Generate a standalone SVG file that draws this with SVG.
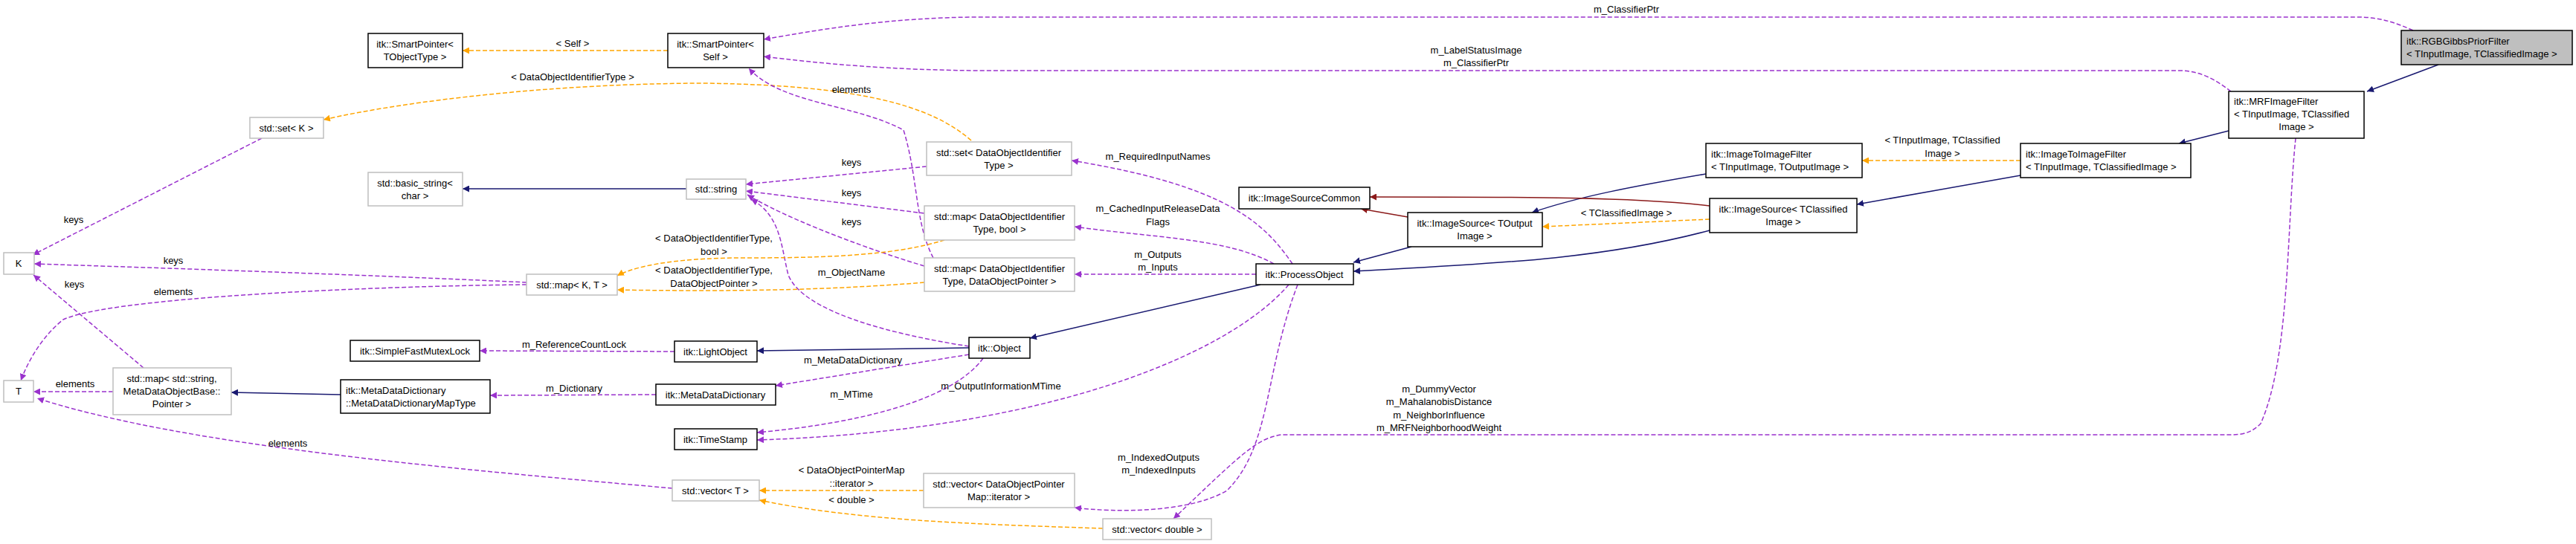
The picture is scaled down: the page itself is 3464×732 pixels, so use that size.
<svg xmlns="http://www.w3.org/2000/svg" width="3464" height="732" viewBox="0 0 3464 732">
<style>
text{font-family:"Liberation Sans",Arial,sans-serif;font-size:13px;fill:#000}
.c{text-anchor:middle}
.n rect{fill:#fff;stroke:#000;stroke-width:1.5}
.g rect{fill:#fff;stroke:#bfbfbf;stroke-width:1.5}
#edges path{fill:none;stroke-width:1.5}
.p{stroke:#9a32cd;stroke-dasharray:6,3}
.o{stroke:#ffa500;stroke-dasharray:6,3}
.b{stroke:#191970}
.r{stroke:#8b1a1a}
</style>
<defs>
<marker id="mp" viewBox="0 0 10 10" refX="10" refY="5" markerWidth="9" markerHeight="9" markerUnits="userSpaceOnUse" orient="auto"><path d="M0,0L10,5L0,10z" fill="#9a32cd"/></marker>
<marker id="mo" viewBox="0 0 10 10" refX="10" refY="5" markerWidth="9" markerHeight="9" markerUnits="userSpaceOnUse" orient="auto"><path d="M0,0L10,5L0,10z" fill="#ffa500"/></marker>
<marker id="mb" viewBox="0 0 10 10" refX="10" refY="5" markerWidth="9" markerHeight="9" markerUnits="userSpaceOnUse" orient="auto"><path d="M0,0L10,5L0,10z" fill="#191970"/></marker>
<marker id="mr" viewBox="0 0 10 10" refX="10" refY="5" markerWidth="9" markerHeight="9" markerUnits="userSpaceOnUse" orient="auto"><path d="M0,0L10,5L0,10z" fill="#8b1a1a"/></marker>
</defs>
<rect width="3464" height="732" fill="#fff"/>
<g id="edges">
<path class="p" marker-end="url(#mp)" d="M3245,41 C3220,30 3200,23 3170,23 L1319,23 C1200,23 1100,40 1027,53"/>
<path class="p" marker-end="url(#mp)" d="M3000,123 C2980,108 2960,95 2930,95 L1330,95 C1200,95 1100,85 1027,76"/>
<path class="b" marker-end="url(#mb)" d="M3279,87 L3183,123"/>
<path class="b" marker-end="url(#mb)" d="M2997,176 L2930,193"/>
<path class="o" marker-end="url(#mo)" d="M2717,216 L2504,216"/>
<path class="b" marker-end="url(#mb)" d="M2294,234 C2200,250 2120,265 2060,286"/>
<path class="b" marker-end="url(#mb)" d="M2717,236 L2497,275"/>
<path class="o" marker-end="url(#mo)" d="M2299,295 L2074,305"/>
<path class="r" marker-end="url(#mr)" d="M2299,277 C2200,265 2050,265 1842,265"/>
<path class="r" marker-end="url(#mr)" d="M1893,292 L1830,281"/>
<path class="b" marker-end="url(#mb)" d="M1898,332 L1820,353"/>
<path class="b" marker-end="url(#mb)" d="M2299,310 C2150,350 2000,355 1820,365"/>
<path class="b" marker-end="url(#mb)" d="M1695,383 L1385,455"/>
<path class="b" marker-end="url(#mb)" d="M1303,468 L1018,472"/>
<path class="b" marker-end="url(#mb)" d="M923,254 L622,254"/>
<path class="p" marker-end="url(#mp)" d="M907,473 L645,472"/>
<path class="p" marker-end="url(#mp)" d="M1303,477 L1043,519"/>
<path class="p" marker-end="url(#mp)" d="M882,531 L659,532"/>
<path class="b" marker-end="url(#mb)" d="M458,531 L311,528"/>
<path class="p" marker-end="url(#mp)" d="M152,527 L45,527"/>
<path class="p" marker-end="url(#mp)" d="M193,495 L45,370"/>
<path class="p" marker-end="url(#mp)" d="M708,380 C500,370 200,360 46,355"/>
<path class="p" marker-end="url(#mp)" d="M708,383 C500,385 150,400 85,430 C60,450 40,480 28,512"/>
<path class="p" marker-end="url(#mp)" d="M352,186 L44,343"/>
<path class="p" marker-end="url(#mp)" d="M904,657 C600,630 250,600 50,536"/>
<path class="o" marker-end="url(#mo)" d="M898,68 L622,68"/>
<path class="o" marker-end="url(#mo)" d="M1306,189 C1250,140 1150,115 950,112 C750,112 550,135 435,161"/>
<path class="p" marker-end="url(#mp)" d="M1255,347 C1230,300 1235,240 1215,175 C1150,140 1050,140 1007,92"/>
<path class="p" marker-end="url(#mp)" d="M1246,224 L1003,248"/>
<path class="p" marker-end="url(#mp)" d="M1243,287 L1003,257"/>
<path class="p" marker-end="url(#mp)" d="M1243,358 C1150,330 1050,290 1005,262"/>
<path class="p" marker-end="url(#mp)" d="M1303,466 C1200,450 1080,420 1060,370 C1050,330 1050,290 1010,268"/>
<path class="o" marker-end="url(#mo)" d="M1270,323 C1200,345 1100,347 1000,347 C900,347 850,360 830,371"/>
<path class="o" marker-end="url(#mo)" d="M1243,380 C1100,392 950,392 830,390"/>
<path class="p" marker-end="url(#mp)" d="M1738,355 C1700,300 1650,250 1441,216"/>
<path class="p" marker-end="url(#mp)" d="M1713,355 C1650,320 1550,320 1445,305"/>
<path class="p" marker-end="url(#mp)" d="M1689,369 L1445,369"/>
<path class="p" marker-end="url(#mp)" d="M1733,383 C1650,480 1400,580 1018,592"/>
<path class="p" marker-end="url(#mp)" d="M1322,482 C1280,540 1150,570 1018,582"/>
<path class="p" marker-end="url(#mp)" d="M1745,383 C1700,500 1710,600 1650,660 C1600,690 1500,690 1445,683"/>
<path class="o" marker-end="url(#mo)" d="M1242,660 L1021,660"/>
<path class="o" marker-end="url(#mo)" d="M1483,711 C1300,705 1150,700 1021,673"/>
<path class="p" marker-end="url(#mp)" d="M3087,186 C3075,300 3080,480 3040,570 C3030,580 3020,585 3000,585 L1723,585 C1690,590 1670,610 1578,698"/>
</g>
<g id="labels">
<text class="c" x="2187" y="17">m_ClassifierPtr</text>
<text class="c" x="1985" y="72">m_LabelStatusImage</text>
<text class="c" x="1985" y="89">m_ClassifierPtr</text>
<text class="c" x="2612" y="193">&lt; TInputImage, TClassified</text>
<text class="c" x="2612" y="211">Image &gt;</text>
<text class="c" x="2187" y="291">&lt; TClassifiedImage &gt;</text>
<text class="c" x="772" y="468">m_ReferenceCountLock</text>
<text class="c" x="1147" y="489">m_MetaDataDictionary</text>
<text class="c" x="772" y="527">m_Dictionary</text>
<text class="c" x="101" y="521">elements</text>
<text class="c" x="100" y="387">keys</text>
<text class="c" x="233" y="355">keys</text>
<text class="c" x="233" y="397">elements</text>
<text class="c" x="99" y="300">keys</text>
<text class="c" x="387" y="601">elements</text>
<text class="c" x="770" y="63">&lt; Self &gt;</text>
<text class="c" x="770" y="108">&lt; DataObjectIdentifierType &gt;</text>
<text class="c" x="1145" y="125">elements</text>
<text class="c" x="1145" y="223">keys</text>
<text class="c" x="1145" y="264">keys</text>
<text class="c" x="1145" y="303">keys</text>
<text class="c" x="1145" y="371">m_ObjectName</text>
<text class="c" x="960" y="325">&lt; DataObjectIdentifierType,</text>
<text class="c" x="960" y="343">bool &gt;</text>
<text class="c" x="960" y="368">&lt; DataObjectIdentifierType,</text>
<text class="c" x="960" y="386">DataObjectPointer &gt;</text>
<text class="c" x="1557" y="215">m_RequiredInputNames</text>
<text class="c" x="1557" y="285">m_CachedInputReleaseData</text>
<text class="c" x="1557" y="303">Flags</text>
<text class="c" x="1557" y="347">m_Outputs</text>
<text class="c" x="1557" y="364">m_Inputs</text>
<text class="c" x="1346" y="524">m_OutputInformationMTime</text>
<text class="c" x="1145" y="535">m_MTime</text>
<text class="c" x="1558" y="620">m_IndexedOutputs</text>
<text class="c" x="1558" y="637">m_IndexedInputs</text>
<text class="c" x="1145" y="637">&lt; DataObjectPointerMap</text>
<text class="c" x="1145" y="655">::iterator &gt;</text>
<text class="c" x="1145" y="677">&lt; double &gt;</text>
<text class="c" x="1935" y="528">m_DummyVector</text>
<text class="c" x="1935" y="545">m_MahalanobisDistance</text>
<text class="c" x="1935" y="563">m_NeighborInfluence</text>
<text class="c" x="1935" y="580">m_MRFNeighborhoodWeight</text>
</g>
<g id="rgbgibbs" class="n"><rect x="3229" y="41" width="230" height="46" style="fill:#bfbfbf"/><text x="3236" y="60">itk::RGBGibbsPriorFilter</text><text x="3236" y="77">&lt; TInputImage, TClassifiedImage &gt;</text></g>
<g id="mrf" class="n"><rect x="2997" y="123" width="182" height="63"/><text x="3004" y="141">itk::MRFImageFilter</text><text x="3004" y="158">&lt; TInputImage, TClassified</text><text class="c" x="3088" y="175">Image &gt;</text></g>
<g id="itif_out" class="n"><rect x="2294" y="193" width="210" height="46"/><text x="2301" y="212">itk::ImageToImageFilter</text><text x="2301" y="229">&lt; TInputImage, TOutputImage &gt;</text></g>
<g id="itif_cls" class="n"><rect x="2717" y="193" width="229" height="46"/><text x="2724" y="212">itk::ImageToImageFilter</text><text x="2724" y="229">&lt; TInputImage, TClassifiedImage &gt;</text></g>
<g id="is_cls" class="n"><rect x="2299" y="267" width="198" height="46"/><text class="c" x="2398" y="286">itk::ImageSource&lt; TClassified</text><text class="c" x="2398" y="303">Image &gt;</text></g>
<g id="is_out" class="n"><rect x="1893" y="286" width="181" height="46"/><text class="c" x="1983" y="305">itk::ImageSource&lt; TOutput</text><text class="c" x="1983" y="322">Image &gt;</text></g>
<g id="iscommon" class="n"><rect x="1666" y="252" width="176" height="29"/><text class="c" x="1754" y="271">itk::ImageSourceCommon</text></g>
<g id="processobject" class="n"><rect x="1689" y="355" width="131" height="28"/><text class="c" x="1754" y="374">itk::ProcessObject</text></g>
<g id="object" class="n"><rect x="1303" y="454" width="82" height="28"/><text class="c" x="1344" y="473">itk::Object</text></g>
<g id="lightobject" class="n"><rect x="907" y="459" width="111" height="28"/><text class="c" x="962" y="478">itk::LightObject</text></g>
<g id="mdd" class="n"><rect x="882" y="517" width="161" height="28"/><text class="c" x="962" y="536">itk::MetaDataDictionary</text></g>
<g id="timestamp" class="n"><rect x="907" y="577" width="111" height="28"/><text class="c" x="962" y="596">itk::TimeStamp</text></g>
<g id="mutex" class="n"><rect x="471" y="458" width="174" height="28"/><text class="c" x="558" y="477">itk::SimpleFastMutexLock</text></g>
<g id="mddmap" class="n"><rect x="458" y="511" width="201" height="45"/><text x="465" y="530">itk::MetaDataDictionary</text><text x="465" y="547">::MetaDataDictionaryMapType</text></g>
<g id="sp_self" class="n"><rect x="898" y="45" width="129" height="46"/><text class="c" x="962" y="64">itk::SmartPointer&lt;</text><text class="c" x="962" y="81">Self &gt;</text></g>
<g id="sp_t" class="n"><rect x="495" y="45" width="127" height="46"/><text class="c" x="558" y="64">itk::SmartPointer&lt;</text><text class="c" x="558" y="81">TObjectType &gt;</text></g>
<g id="setk" class="g"><rect x="336" y="158" width="99" height="28"/><text class="c" x="385" y="177">std::set&lt; K &gt;</text></g>
<g id="basicstring" class="g"><rect x="495" y="232" width="127" height="45"/><text class="c" x="558" y="251">std::basic_string&lt;</text><text class="c" x="558" y="268">char &gt;</text></g>
<g id="string" class="g"><rect x="923" y="241" width="80" height="27"/><text class="c" x="963" y="259">std::string</text></g>
<g id="K" class="g"><rect x="5" y="340" width="41" height="29"/><text class="c" x="25" y="359">K</text></g>
<g id="T" class="g"><rect x="5" y="512" width="40" height="29"/><text class="c" x="25" y="531">T</text></g>
<g id="mapkt" class="g"><rect x="708" y="369" width="122" height="28"/><text class="c" x="769" y="388">std::map&lt; K, T &gt;</text></g>
<g id="mapstr" class="g"><rect x="152" y="495" width="159" height="63"/><text class="c" x="231" y="514">std::map&lt; std::string,</text><text class="c" x="231" y="531">MetaDataObjectBase::</text><text class="c" x="231" y="548">Pointer &gt;</text></g>
<g id="vect" class="g"><rect x="904" y="646" width="117" height="28"/><text class="c" x="962" y="665">std::vector&lt; T &gt;</text></g>
<g id="setdoi" class="g"><rect x="1246" y="191" width="195" height="45"/><text class="c" x="1343" y="210">std::set&lt; DataObjectIdentifier</text><text class="c" x="1343" y="227">Type &gt;</text></g>
<g id="mapbool" class="g"><rect x="1243" y="277" width="202" height="46"/><text class="c" x="1344" y="296">std::map&lt; DataObjectIdentifier</text><text class="c" x="1344" y="313">Type, bool &gt;</text></g>
<g id="mapptr" class="g"><rect x="1243" y="347" width="202" height="45"/><text class="c" x="1344" y="366">std::map&lt; DataObjectIdentifier</text><text class="c" x="1344" y="383">Type, DataObjectPointer &gt;</text></g>
<g id="vecit" class="g"><rect x="1242" y="637" width="203" height="46"/><text class="c" x="1343" y="656">std::vector&lt; DataObjectPointer</text><text class="c" x="1343" y="673">Map::iterator &gt;</text></g>
<g id="vecdouble" class="g"><rect x="1483" y="698" width="146" height="28"/><text class="c" x="1556" y="717">std::vector&lt; double &gt;</text></g>
</svg>
